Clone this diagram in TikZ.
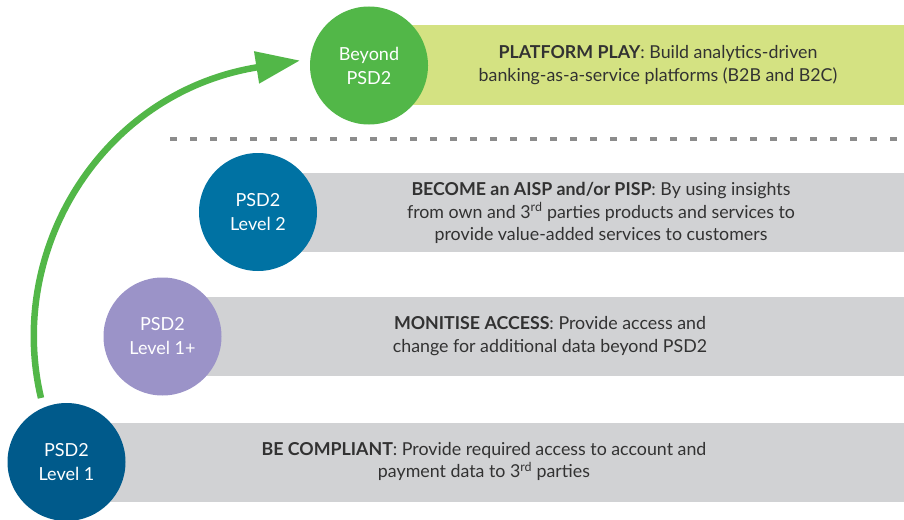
\documentclass[tikz,border=0pt]{standalone}
\usepackage{fontspec}
\setmainfont{Lato}
\usetikzlibrary{arrows.meta}
\definecolor{cgreen}{RGB}{82,183,72}
\definecolor{cgreenl}{RGB}{212,226,130}
\definecolor{cblue}{RGB}{0,114,163}
\definecolor{clav}{RGB}{155,147,200}
\definecolor{cdblue}{RGB}{0,90,139}
\definecolor{cgray}{RGB}{209,210,212}
\definecolor{cdash}{RGB}{140,140,140}
\definecolor{ctext}{RGB}{50,50,50}
\begin{document}
\begin{tikzpicture}[x=1pt,y=-1pt,
  stage/.style={circle,minimum size=118pt,inner sep=0pt,text=white,align=center,
    font=\fontsize{18}{24}\selectfont},
  banner/.style={rectangle,minimum height=79pt,inner sep=0pt,anchor=west},
  btext/.style={align=center,text=ctext,font=\fontsize{17.8}{22.5}\selectfont,inner sep=0pt}]
\useasboundingbox (0,0) rectangle (904,519);
% banners
\node[banner,fill=cgreenl,minimum width=535pt] (b0) at (369,65) {};
\node[banner,fill=cgray,minimum width=646pt] (b1) at (258,212.5) {};
\node[banner,fill=cgray,minimum width=742pt] (b2) at (162,336.5) {};
\node[banner,fill=cgray,minimum width=838pt] (b3) at (66,462.5) {};
% dashed line
\coordinate (dl) at (170,139);
\coordinate (dr) at (904,139);
\draw[cdash,line width=4pt,dash pattern=on 7pt off 13pt] (dl) -- (dr);
% circles
\node[stage,fill=cgreen] (c0) at (369,65.5) {Beyond\\PSD2};
\node[stage,fill=cblue] (c1) at (258,212) {PSD2\\Level 2};
\node[stage,fill=clav] (c2) at (162.5,336.5) {PSD2\\Level 1+};
\node[stage,fill=cdblue] (c3) at (66.5,462) {PSD2\\Level 1};
% texts
\node[btext] (t0) at (658,65) {\textbf{PLATFORM PLAY}: Build analytics-driven\\banking-as-a-service platforms (B2B and B2C)};
\node[btext] (t1) at (601,213) {\textbf{BECOME an AISP and/or PISP}: By using insights\\from own and 3\textsuperscript{rd} parties products and services to\\provide value-added services to customers};
\node[btext] (t2) at (550,336) {\textbf{MONITISE ACCESS}: Provide access and\\change for additional data beyond PSD2};
\node[btext] (t3) at (484,461.5) {\textbf{BE COMPLIANT}: Provide required access to account and\\payment data to 3\textsuperscript{rd} parties};
% arrow
\coordinate (as) at (41,398);
\coordinate (am) at (256,67.5);
\coordinate (ae) at (300,60.5);
\draw[cgreen,line width=6.5pt,-{Triangle[length=44pt,width=31pt]}]
  (as) .. controls (6,250) and (101.4,93.5) .. (am) -- (ae);
\end{tikzpicture}
\end{document}
